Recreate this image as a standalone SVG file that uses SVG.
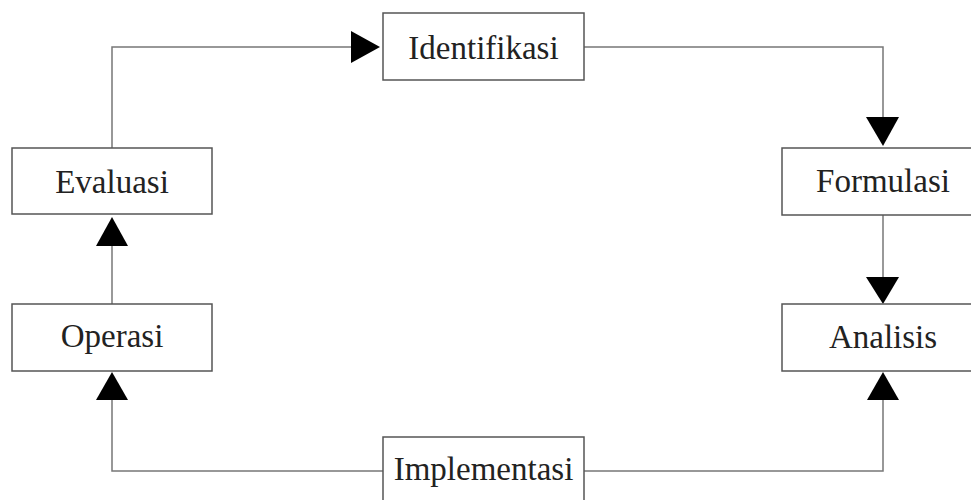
<svg xmlns="http://www.w3.org/2000/svg" width="971" height="500" viewBox="0 0 971 500">
<style>
.box{fill:#fff;stroke:#555;stroke-width:1.5}
.lbl{font-family:"Liberation Serif","Times New Roman",serif;font-size:33px;fill:#222;text-anchor:middle}
.ln{fill:none;stroke:#777;stroke-width:1.5}
.ah{fill:#000}
</style>
<rect width="971" height="500" fill="#fff"/>
<g id="connectors">
<path class="ln" d="M112,148 V47 H352"/>
<polygon class="ah" points="351,31 380,47 351,63"/>
<path class="ln" d="M584,47 H883 V118"/>
<polygon class="ah" points="866,117 899,117 883,146"/>
<path class="ln" d="M883,215 V277"/>
<polygon class="ah" points="866,277 899,277 883,304"/>
<path class="ln" d="M383,471 H112 V399"/>
<polygon class="ah" points="96,400 128,400 112,372"/>
<path class="ln" d="M584,471 H883 V399"/>
<polygon class="ah" points="867,400 899,400 883,372"/>
<path class="ln" d="M112,304 V245"/>
<polygon class="ah" points="96,246 128,246 112,217"/>
</g>
<g id="identifikasi">
<rect class="box" x="383" y="13" width="201" height="67"/>
<text class="lbl" x="483.5" y="59">Identifikasi</text>
</g>
<g id="formulasi">
<rect class="box" x="782" y="148" width="202" height="67"/>
<text class="lbl" x="883" y="192">Formulasi</text>
</g>
<g id="analisis">
<rect class="box" x="782" y="304" width="202" height="67"/>
<text class="lbl" x="883" y="348">Analisis</text>
</g>
<g id="implementasi">
<rect class="box" x="383" y="437" width="201" height="70"/>
<text class="lbl" x="483.5" y="480">Implementasi</text>
</g>
<g id="operasi">
<rect class="box" x="12" y="304" width="200" height="67"/>
<text class="lbl" x="112" y="347">Operasi</text>
</g>
<g id="evaluasi">
<rect class="box" x="12" y="148" width="200" height="66"/>
<text class="lbl" x="112" y="193">Evaluasi</text>
</g>
</svg>
